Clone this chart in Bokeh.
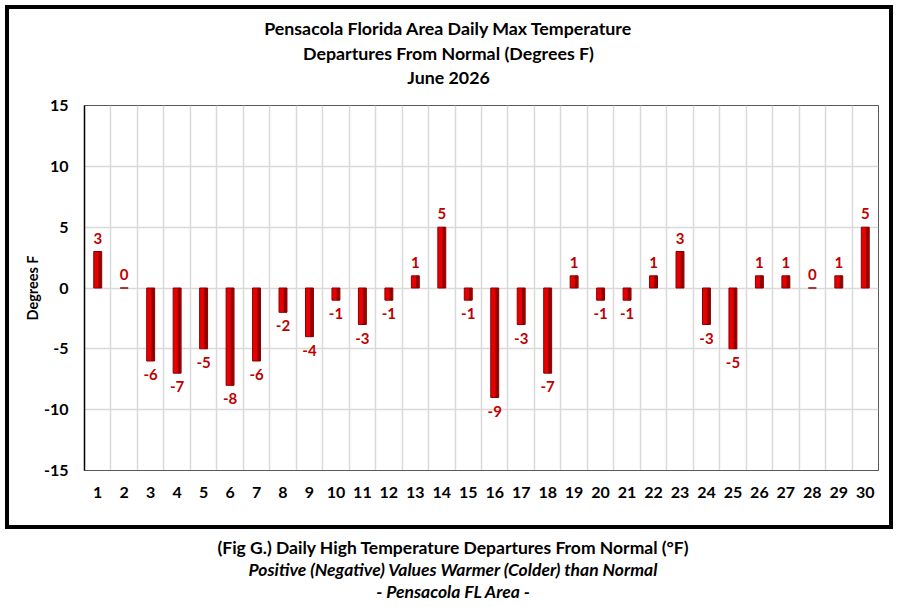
from bokeh.plotting import figure
from bokeh.models import Range1d, FixedTicker, LabelSet, ColumnDataSource, Spacer
from bokeh.layouts import column, row
from bokeh.embed import file_html
from bokeh.resources import INLINE
from bokeh.core.properties import value

days = list(range(1, 31))
departures = [3, 0, -6, -7, -5, -8, -6, -2, -4, -1, -3, -1, 1, 5, -1,
              -9, -3, -7, 1, -1, -1, 1, 3, -3, -5, 1, 1, 0, 1, 5]
title_lines = ["Pensacola Florida Area Daily Max Temperature",
               "Departures From Normal (Degrees F)",
               "June 2026"]
caption_lines = ["(Fig G.) Daily High Temperature Departures From Normal (\u00b0F)",
                 "Positive (Negative) Values Warmer (Colder) than Normal",
                 "- Pensacola FL Area -"]
y_ticks = [-15, -10, -5, 0, 5, 10, 15]

FONT = "Lato"
BORDER = "4px solid black"

# ---- title strip (top part of the boxed area); frame spans page x 84..878
t = figure(width=888, height=85, output_backend="svg", toolbar_location=None,
           x_range=Range1d(84, 878), y_range=Range1d(81, 0),
           min_border_left=75, min_border_right=19, min_border_top=0, min_border_bottom=0,
           x_axis_type=None, y_axis_type=None,
           styles={"border": BORDER, "border-bottom": "none"})
t.outline_line_color = None
t.xgrid.visible = False
t.ygrid.visible = False
for i, s in enumerate(title_lines):
    t.text(x=[448], y=[18 + 23 * i], text=[s], text_align="center", text_baseline="middle",
           text_font=value(FONT), text_font_style="bold", text_font_size="17.8px",
           text_color="black")

# ---- chart
p = figure(width=888, height=439, output_backend="svg", toolbar_location=None,
           x_range=Range1d(0.5, 30.5), y_range=Range1d(-15, 15),
           min_border_left=75, min_border_right=19, min_border_top=15, min_border_bottom=59,
           styles={"border": BORDER, "border-top": "none"})
p.outline_line_color = "#595959"
p.outline_line_width = 1

src = ColumnDataSource(dict(x=days, top=departures,
                            xr=[d + 0.08 for d in days]))
p.vbar(x="x", top="top", bottom=0, width=0.3, source=src,
       fill_color="#e80000", line_color="#8a0000", line_width=1)
p.vbar(x="xr", top="top", bottom=0, width=0.1, source=src,
       fill_color="#8b0000", line_color=None)

pos = [(d, v) for d, v in zip(days, departures) if v >= 0]
neg = [(d, v) for d, v in zip(days, departures) if v < 0]
src_pos = ColumnDataSource(dict(x=[a for a, b in pos], y=[b for a, b in pos], t=[str(b) for a, b in pos]))
src_neg = ColumnDataSource(dict(x=[a for a, b in neg], y=[b for a, b in neg], t=[str(b) for a, b in neg]))
for s, off, base in [(src_pos, 8, "bottom"), (src_neg, -8, "top")]:
    p.add_layout(LabelSet(x="x", y="y", text="t", source=s, y_offset=off,
                          text_align="center", text_baseline=base,
                          text_font=value(FONT), text_font_style="bold",
                          text_font_size="15px", text_color="#c00000"))

p.xaxis.ticker = FixedTicker(ticks=days)
p.yaxis.ticker = FixedTicker(ticks=y_ticks)
p.yaxis.major_label_overrides = {v: str(v) for v in y_ticks}
for ax in (p.xaxis[0], p.yaxis[0]):
    ax.major_tick_line_color = None
    ax.minor_tick_line_color = None
    ax.major_label_text_font = FONT
    ax.major_label_text_font_style = "bold"
    ax.major_label_text_font_size = "16px"
    ax.major_label_text_color = "black"
p.xaxis.major_label_standoff = 10
p.yaxis.major_label_standoff = 10
p.xaxis.axis_line_color = "#595959"
p.yaxis.axis_line_color = "black"
p.yaxis.axis_line_width = 1.5
p.yaxis.axis_label = "Degrees F"
p.yaxis.axis_label_text_font = FONT
p.yaxis.axis_label_text_font_style = "bold"
p.yaxis.axis_label_text_font_size = "14.5px"
p.yaxis.axis_label_text_color = "black"
p.yaxis.axis_label_standoff = 0

p.xgrid.ticker = FixedTicker(ticks=[d + 0.5 for d in days[:-1]])
p.xgrid.grid_line_color = "#d9d9d9"
p.xgrid.grid_line_width = 1.5
p.ygrid.grid_line_color = "#d9d9d9"
p.ygrid.grid_line_width = 1.5

# ---- caption under the box
c = figure(width=900, height=75, output_backend="svg", toolbar_location=None,
           x_range=Range1d(0, 900), y_range=Range1d(75, 0),
           min_border=0, x_axis_type=None, y_axis_type=None)
c.outline_line_color = None
c.xgrid.visible = False
c.ygrid.visible = False
styles_ = ["bold", "bold italic", "bold italic"]
for i, s in enumerate(caption_lines):
    c.text(x=[453], y=[18 + 22 * i], text=[s], text_align="center", text_baseline="middle",
           text_font=value(FONT), text_font_style=styles_[i], text_font_size="17.5px",
           text_color="black")

layout = column(Spacer(height=5),
                row(Spacer(width=5), column(t, p, spacing=0), spacing=0),
                c, spacing=0)
open("out.html", "w").write(file_html(layout, INLINE))
